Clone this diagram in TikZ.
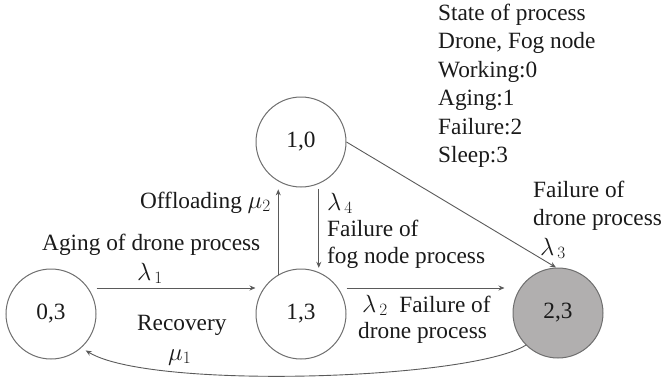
\documentclass[tikz,border=0pt]{standalone}
\usepackage{fontspec}
\setmainfont{Liberation Serif}
\usetikzlibrary{arrows.meta,calc}
\definecolor{linegray}{HTML}{5A5A5A}
\definecolor{circgray}{HTML}{6E6E6E}
\definecolor{fillgray}{HTML}{B1AFAF}
\definecolor{txt}{HTML}{1A1A1A}
\tikzset{
  every node/.style={font=\fontsize{23.3}{28.5}\selectfont, inner sep=0pt, text=txt},
  state/.style={circle, draw=circgray, line width=1pt, minimum size=90pt},
  conn/.style={draw=linegray, line width=0.9pt, -{Stealth[length=6pt,width=5pt]}},
  lbl/.style={anchor=base west},
}
\begin{document}
\begin{tikzpicture}[x=1pt,y=-1pt]
\useasboundingbox (0,0) rectangle (664,380);
% states
\node[state] (n03) at (51,314) {0,3};
\node[state] (n13) at (301,314) {1,3};
\node[state] (n10) at (301,142) {1,0};
\node[state, fill=fillgray] (n23) at (558,313) {2,3};
% helper points
\coordinate (a1) at ($(n03.east)+(0,-26)$);
\coordinate (b1) at ($(n13.west)+(0,-26)$);
\coordinate (a2) at ($(n13.east)+(0,-26)$);
\coordinate (b2) at ($(n23.west)+(0,-25)$);
\coordinate (u1) at (n13.120);
\coordinate (u2) at (n10.-120);
\coordinate (d1) at (n10.-67);
\coordinate (d2) at (n13.68);
% connectors
\draw[conn] (a1) -- (b1);
\draw[conn, shorten >=8pt] (a2) -- (b2);
\draw[conn, shorten >=8pt] (u1) -- (u1 |- u2);
\draw[conn, shorten <=5pt, shorten >=4pt] (d1) -- (d1 |- d2);
\draw[conn] (n10.east) -- ($(n23.north)+(-2,0)$);
\draw[conn, shorten >=5pt] (n23.225) .. controls (470,380) and (150,390) .. (n03.-48);
% labels
\node[lbl] (tAging) at (42,250) {Aging of drone process};
\node[lbl] (tL1) at (137,280) {$\lambda_{\,1}$};
\node[lbl] (tRec) at (137,330) {Recovery};
\node[lbl] (tM1) at (168,360) {$\mu_1$};
\node[anchor=base east] (tOff) at (271,208) {Offloading $\mu_2$};
\node[lbl] (tL4) at (327,210) {$\lambda_{\,4}$};
\node[lbl] (tF4a) at (327,236) {Failure of};
\node[lbl] (tF4b) at (327,263) {fog node process};
\node[lbl] (tL2) at (362,312) {$\lambda_{\,2}$\ \ Failure of};
\node[lbl] (tF2b) at (358,338) {drone process};
\node[lbl] (tF3a) at (533,197) {Failure of};
\node[lbl] (tF3b) at (533,225) {drone process};
\node[lbl] (tL3) at (540,255) {$\lambda_{\,3}$};
% legend
\node[lbl] (g1) at (438,20) {State of process};
\node[lbl] (g2) at (438,48.5) {Drone, Fog node};
\node[lbl] (g3) at (438,77) {Working:0};
\node[lbl] (g4) at (438,105.5) {Aging:1};
\node[lbl] (g5) at (438,134) {Failure:2};
\node[lbl] (g6) at (438,162.5) {Sleep:3};
\end{tikzpicture}
\end{document}
